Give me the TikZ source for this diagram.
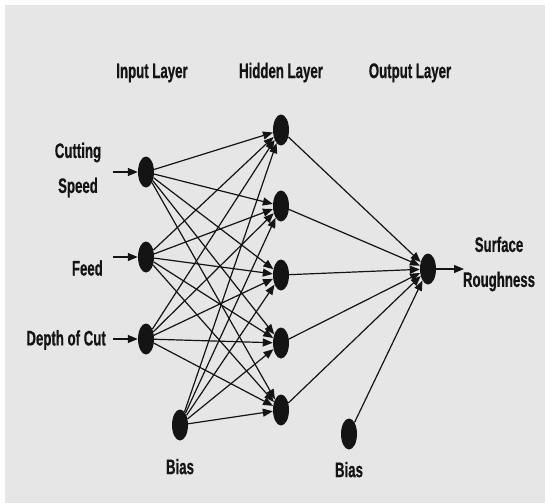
\documentclass[tikz,border=0pt]{standalone}
\usepackage{fontspec}
\setmainfont{Liberation Sans}[FakeStretch=0.63, BoldFeatures={FakeBold=0.6}]
\usepackage{tikz}
\usetikzlibrary{positioning,arrows.meta,shapes.geometric}

\definecolor{panel}{HTML}{E6E6E6}
\definecolor{ink}{HTML}{141414}

\begin{document}
\begin{tikzpicture}[x=1pt, y=-1pt,
		font=\bfseries\fontsize{21}{35}\selectfont,
		neuron/.style={ellipse, fill=ink, inner sep=0pt, minimum width=16pt, minimum height=31pt},
		lbl/.style={text=ink, align=center, inner sep=0pt},
		link/.style={draw=ink, line width=1.2pt, -{Triangle[length=10pt, width=8pt]}}]
		\useasboundingbox (0,0) rectangle (545,503);
		\fill[panel] (5,5) rectangle (545,503);

		% layer titles
		\node[lbl, anchor=base] (tin) at (152,78) {Input Layer};
		\node[lbl, anchor=base] (thid) at (281,78) {Hidden Layer};
		\node[lbl, anchor=base] (tout) at (410,78) {Output Layer};

		% neurons
		\node[neuron] (in1) at (146,172) {};
		\node[neuron] (in2) at (146,257) {};
		\node[neuron] (in3) at (146,339) {};
		\node[neuron] (inb) at (180,425) {};
		\foreach \i/\y in {1/130, 2/206, 3/275, 4/343, 5/410}
			\node[neuron] (h\i) at (281,\y) {};
		\node[neuron] (out) at (428,269) {};
		\node[neuron] (outb) at (349,434) {};

		% inputs
		\coordinate (s1) at (113,172);
		\coordinate (s2) at (113,257);
		\coordinate (s3) at (113,339);
		\node[lbl] (speed) at (78,170) {Cutting\\Speed};
		\node[lbl, anchor=east] (feed) at (103,268) {Feed};
		\node[lbl, anchor=east] (doc) at (106,340) {Depth of Cut};
		\foreach \i in {1,2,3}
			\draw[link] (s\i) -- (in\i);

		% weights
		\foreach \a in {in1,in2,in3,inb}
			\foreach \b in {h1,h2,h3,h4,h5}
				\draw[link] (\a) -- (\b);
		\foreach \a in {h1,h2,h3,h4,h5,outb}
			\draw[link] (\a) -- (out);

		% output
		\coordinate (r) at (464,269);
		\draw[link] (out) -- (r);
		\node[lbl] (rough) at (499,264) {Surface\\Roughness};

		\node[lbl, below=18pt of inb] (binl) {Bias};
		\node[lbl, below=12pt of outb] (bout) {Bias};
	\end{tikzpicture}
\end{document}
